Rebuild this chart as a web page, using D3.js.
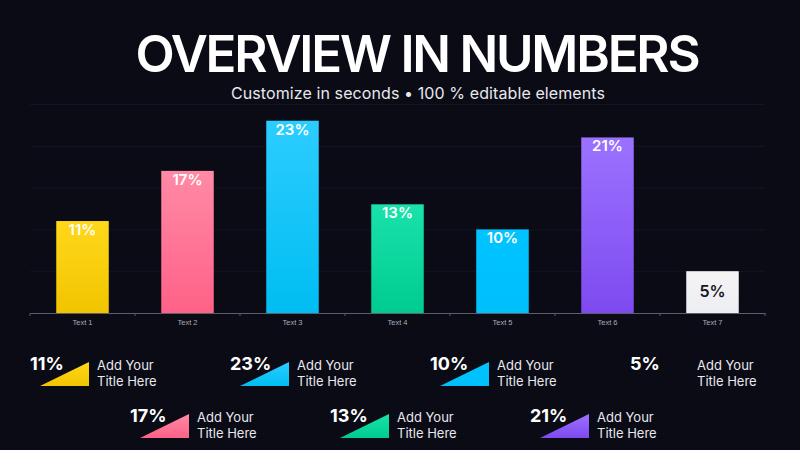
<!DOCTYPE html>
<html>
<head>
<meta charset="utf-8">
<script src="https://cdn.jsdelivr.net/npm/d3@7"></script>
<style>
  html, body { margin: 0; padding: 0; background: #0a0b14; }
  svg { display: block; font-family: Inter, "Open Sans", sans-serif; }
</style>
</head>
<body>
<div id="chart"></div>
<script>
// chart values
const categories = ["Text 1", "Text 2", "Text 3", "Text 4", "Text 5", "Text 6", "Text 7"];
const values = [11, 17, 23, 13, 10, 21, 5];
const colorsTop = ["#ffd81a", "#ff8aa6", "#2ccdff", "#19e2aa", "#00c3ff", "#9b72ff", "#f4f4f7"];
const colorsBottom = ["#f2c400", "#ff6187", "#00bdf2", "#00cc8f", "#00c0fc", "#7e4af0", "#eeeef2"];
const legendTitle = ["Add Your", "Title Here"];
const yTicks = [5, 10, 15, 20, 25];

const width = 800, height = 450;
const margin = { top: 104, right: 35, bottom: 137, left: 30 };

const svg = d3.select("#chart")
  .append("svg")
  .attr("width", width)
  .attr("height", height);

svg.append("rect")
  .attr("width", width)
  .attr("height", height)
  .attr("fill", "#0a0b14");

const defs = svg.append("defs");
categories.forEach((c, i) => {
  const g = defs.append("linearGradient")
    .attr("id", "grad" + i)
    .attr("x1", 0).attr("y1", 0).attr("x2", 0).attr("y2", 1);
  g.append("stop").attr("offset", "0%").attr("stop-color", colorsTop[i]);
  g.append("stop").attr("offset", "100%").attr("stop-color", colorsBottom[i]);
});

// fit a text to a target width by adjusting letter spacing
function fitSpacing(sel, target) {
  const node = sel.node();
  const len = node.getComputedTextLength();
  const n = node.textContent.length;
  sel.style("letter-spacing", ((target - len) / (n - 1)) + "px");
}

// title
const title = svg.append("text")
  .attr("x", 417)
  .attr("y", 72)
  .attr("text-anchor", "middle")
  .attr("fill", "#ffffff")
  .style("font-size", "51px")
  .style("font-weight", 600)
  .text("OVERVIEW IN NUMBERS");
fitSpacing(title, 565);

const subtitle = svg.append("text")
  .attr("x", 418)
  .attr("y", 99)
  .attr("text-anchor", "middle")
  .attr("fill", "#e8e8ee")
  .style("font-size", "16px")
  .text("Customize in seconds \u2022 100 % editable elements");
fitSpacing(subtitle, 374);

// scales
const x = d3.scaleBand()
  .domain(categories)
  .range([margin.left, width - margin.right])
  .paddingInner(0.5)
  .paddingOuter(0.25);

const y = d3.scaleLinear()
  .domain([0, 25])
  .range([height - margin.bottom, margin.top]);

// faint grid
svg.append("g")
  .attr("transform", `translate(${margin.left},0)`)
  .call(d3.axisLeft(y).tickValues(yTicks).tickSize(-(width - margin.left - margin.right)).tickFormat(""))
  .call(g => g.select(".domain").remove())
  .selectAll("line")
  .attr("stroke", "#161824")
  .attr("stroke-width", 0.8);

// bars
const bars = svg.append("g").selectAll("g.bar")
  .data(values)
  .enter()
  .append("g")
  .attr("class", "bar");

bars.append("rect")
  .attr("x", (d, i) => x(categories[i]))
  .attr("width", x.bandwidth())
  .attr("y", d => y(d))
  .attr("height", d => y(0) - y(d))
  .attr("fill", (d, i) => `url(#grad${i})`);

// labels near the top, centred in short bars
bars.append("text")
  .attr("x", (d, i) => x(categories[i]) + x.bandwidth() / 2)
  .attr("y", d => {
    const h = y(0) - y(d);
    return y(d) + (h < 50 ? h / 2 + 5 : 14);
  })
  .attr("text-anchor", "middle")
  .attr("fill", (d, i) => i === 6 ? "#15161f" : "#ffffff")
  .style("font-size", (d, i) => i === 6 ? "16px" : "15px")
  .style("font-weight", 600)
  .text(d => d + "%");

// x axis
const axisG = svg.append("g")
  .attr("transform", `translate(0,${y(0)})`)
  .call(d3.axisBottom(x).tickSize(0).tickPadding(7));
axisG.select(".domain").attr("stroke", "#5c5f6c");
axisG.selectAll("text")
  .attr("fill", "#a9abb4")
  .style("font-size", "7.5px");

// edge ticks between bands
const edges = categories.map(c => x(c) - (x.step() - x.bandwidth()) / 2);
edges.push(width - margin.right);
axisG.selectAll("line.edge")
  .data(edges)
  .enter()
  .append("line")
  .attr("class", "edge")
  .attr("x1", d => d).attr("x2", d => d)
  .attr("y1", 0).attr("y2", 3)
  .attr("stroke", "#5c5f6c");

// legend
const legend = svg.append("g").selectAll("g.item")
  .data(values)
  .enter()
  .append("g")
  .attr("class", "item")
  .attr("transform", (d, i) => `translate(${30 + 100 * i},${i % 2 === 0 ? 370 : 422})`);

legend.append("path")
  .attr("d", "M10,16 L59,16 L59,-8 Z")
  .attr("fill", (d, i) => i === 6 ? "#0a0b14" : `url(#grad${i})`);

legend.append("text")
  .attr("x", 0)
  .attr("y", 0)
  .attr("fill", "#ffffff")
  .style("font-size", "18px")
  .style("font-weight", 700)
  .text(d => d + "%");

legend.append("text")
  .attr("x", 67)
  .attr("y", 0)
  .attr("fill", "#e8e8ee")
  .style("font-size", "13px")
  .selectAll("tspan")
  .data(legendTitle)
  .enter()
  .append("tspan")
  .attr("x", 67)
  .attr("dy", (d, i) => i === 0 ? 0 : 16)
  .text(d => d);
</script>
</body>
</html>
